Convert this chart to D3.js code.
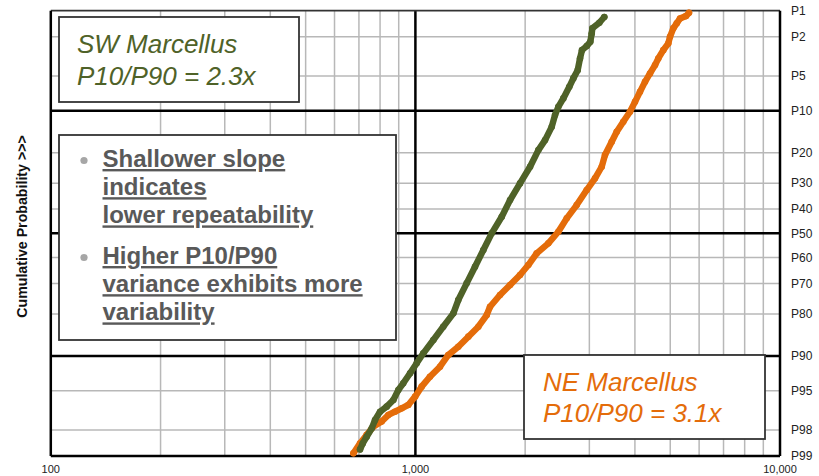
<!DOCTYPE html>
<html>
<head>
<meta charset="utf-8">
<script src="https://cdn.jsdelivr.net/npm/d3@7"></script>
<style>
  html, body { margin: 0; padding: 0; background: #fff; }
  svg { display: block; font-family: "Liberation Sans", Arial, sans-serif; }
</style>
</head>
<body>
<svg id="chart" width="819" height="476"></svg>
<script>
// Well results (x) against cumulative probability in percent (y), one pair of arrays per play
const swValues = [3297,3195,3057,3045,3018,2950,2863,2828,2787,2711,2643,2545,2466,2415,2365,2268,2174,2063,1936,1818,1725,1619,1536,1457,1382,1311,1271,1192,1120,1051,1008,967,926,898,870,834,800,775,759,735,717,705];
const swProb   = [1.19,1.39,1.61,1.84,2.27,2.52,2.78,3.38,4.41,5.27,6.29,7.93,9.31,10.83,13.29,16.50,19.22,24.33,30.08,36.40,43.12,50.00,56.92,63.64,69.92,75.70,79.83,83.53,86.74,89.50,91.27,92.81,94.14,94.91,95.92,96.49,96.88,97.44,97.92,98.32,98.59,98.80];

const neValues = [5628,5523,5318,5209,5097,4992,4939,4786,4637,4542,4400,4263,4130,4002,3877,3717,3566,3455,3311,3243,3109,2950,2769,2600,2466,2315,2151,2040,1936,1818,1706,1602,1569,1488,1397,1311,1231,1168,1096,1040,998,956,917,879,843,808,766,735,705,676];
const neProb   = [1.06,1.16,1.24,1.41,1.61,2.00,2.36,2.78,3.38,3.94,4.74,5.67,6.96,8.47,10.20,12.19,14.43,16.94,20.67,24.33,28.28,32.56,38.38,43.77,49.33,54.16,58.27,62.97,66.84,70.54,74.03,77.83,80.33,83.53,85.98,88.19,89.81,91.82,93.29,94.54,95.60,96.35,96.62,96.88,97.11,97.54,97.83,98.24,98.59,98.92];

// Probability axis ticks (percent) and the heavier reference lines
const probTicks = [1,2,5,10,20,30,40,50,60,70,80,90,95,98,99];
const majorProb = [10,50,90];
const xTickValues = [100,1000,10000];
const xTickLabels = ["100","1,000","10,000"];
const majorX = [1000];

const bulletLines = [
  ["Shallower slope", "indicates", "lower repeatability"],
  ["Higher P10/P90", "variance exhibits more", "variability"]
];

// Inverse standard normal CDF (Acklam's rational approximation)
function probit(p) {
  const a=[-3.969683028665376e+01,2.209460984245205e+02,-2.759285104469687e+02,1.383577518672690e+02,-3.066479806614716e+01,2.506628277459239e+00];
  const b=[-5.447609879822406e+01,1.615858368580409e+02,-1.556989798598866e+02,6.680131188771972e+01,-1.328068155288572e+01];
  const c=[-7.784894002430293e-03,-3.223964580411365e-01,-2.400758277161838e+00,-2.549732539343734e+00,4.374664141464968e+00,2.938163982698783e+00];
  const d=[7.784695709041462e-03,3.224671290700398e-01,2.445134137142996e+00,3.754408661907416e+00];
  const pl = 0.02425, ph = 1 - pl;
  let q, r;
  if (p < pl) {
    q = Math.sqrt(-2 * Math.log(p));
    return (((((c[0]*q+c[1])*q+c[2])*q+c[3])*q+c[4])*q+c[5]) / ((((d[0]*q+d[1])*q+d[2])*q+d[3])*q+1);
  }
  if (p <= ph) {
    q = p - 0.5; r = q * q;
    return (((((a[0]*r+a[1])*r+a[2])*r+a[3])*r+a[4])*r+a[5])*q / (((((b[0]*r+b[1])*r+b[2])*r+b[3])*r+b[4])*r+1);
  }
  q = Math.sqrt(-2 * Math.log(1 - p));
  return -(((((c[0]*q+c[1])*q+c[2])*q+c[3])*q+c[4])*q+c[5]) / ((((d[0]*q+d[1])*q+d[2])*q+d[3])*q+1);
}

const svg = d3.select("#chart");
const W = 819, H = 476;
const plot = { left: 50.8, right: 780, top: 10.7, bottom: 456 };

const x = d3.scaleLog().domain([100, 10000]).range([plot.left, plot.right]);
const z = d3.scaleLinear().domain([probit(0.01), probit(0.99)]).range([plot.top, plot.bottom]);
const y = p => z(probit(p / 100));

const green = "#4F6228", orange = "#E46C0A";
const gridGray = "#b8b8b8";

svg.append("rect").attr("width", W).attr("height", H).attr("fill", "#fff");

// Minor grid
const g = svg.append("g");
g.selectAll("line.vx").data(x.ticks().filter(v => v > 100 && v < 10000 && !majorX.includes(v)))
  .join("line").attr("class", "vx")
  .attr("x1", d => x(d)).attr("x2", d => x(d))
  .attr("y1", plot.top).attr("y2", plot.bottom)
  .attr("stroke", gridGray).attr("stroke-width", 1.5);
g.selectAll("line.hy").data(probTicks.filter(p => !majorProb.includes(p) && p !== 1))
  .join("line").attr("class", "hy")
  .attr("x1", plot.left).attr("x2", plot.right)
  .attr("y1", d => y(d)).attr("y2", d => y(d))
  .attr("stroke", gridGray).attr("stroke-width", 1.5);

// Heavy reference lines
g.selectAll("line.mx").data(majorX).join("line").attr("class", "mx")
  .attr("x1", d => x(d)).attr("x2", d => x(d))
  .attr("y1", plot.top).attr("y2", plot.bottom)
  .attr("stroke", "#000").attr("stroke-width", 2.5);
g.selectAll("line.my").data(majorProb).join("line").attr("class", "my")
  .attr("x1", plot.left).attr("x2", plot.right)
  .attr("y1", d => y(d)).attr("y2", d => y(d))
  .attr("stroke", "#000").attr("stroke-width", 2.5);

// Plot frame
g.append("line").attr("x1", plot.left).attr("x2", plot.right).attr("y1", plot.top).attr("y2", plot.top)
  .attr("stroke", "#333").attr("stroke-width", 1.8);
g.append("line").attr("x1", plot.left).attr("x2", plot.right).attr("y1", plot.bottom).attr("y2", plot.bottom)
  .attr("stroke", "#000").attr("stroke-width", 2.5);
g.append("line").attr("x1", plot.left).attr("x2", plot.left).attr("y1", plot.top).attr("y2", plot.bottom)
  .attr("stroke", "#000").attr("stroke-width", 2.5);
g.append("line").attr("x1", plot.right).attr("x2", plot.right).attr("y1", plot.top).attr("y2", plot.bottom)
  .attr("stroke", "#000").attr("stroke-width", 2.5);

// Probability labels on the right
svg.append("g").selectAll("text").data(probTicks).join("text")
  .attr("x", 791).attr("y", d => y(d) + 4.3)
  .attr("font-size", 12).attr("fill", "#222")
  .text(d => "P" + d);

// Value labels along the bottom
svg.append("g").selectAll("text").data(xTickValues).join("text")
  .attr("x", d => x(d)).attr("y", 473)
  .attr("text-anchor", "middle").attr("font-size", 11).attr("fill", "#222")
  .text((d, i) => xTickLabels[i]);

// Axis title
svg.append("text")
  .attr("transform", "translate(26.5,226.5) rotate(-90)")
  .attr("text-anchor", "middle").attr("font-size", 14.2).attr("font-weight", "bold").attr("fill", "#111")
  .text("Cumulative Probability >>>");

// Annotation boxes
function box(x0, y0, w, h) {
  svg.append("rect").attr("x", x0).attr("y", y0).attr("width", w).attr("height", h)
    .attr("fill", "#fff").attr("stroke", "#333").attr("stroke-width", 1.8);
}
box(59, 17, 240, 85);
svg.append("text").attr("x", 77).attr("y", 53).attr("font-size", 26).attr("font-style", "italic")
  .attr("fill", green).text("SW Marcellus");
svg.append("text").attr("x", 77).attr("y", 85).attr("font-size", 26).attr("font-style", "italic")
  .attr("fill", green).text("P10/P90 = 2.3x");

box(59, 135, 337, 205);
const bulletTop = [167, 264];
bulletLines.forEach((lines, bi) => {
  svg.append("circle").attr("cx", 84).attr("cy", bulletTop[bi] - 6.5).attr("r", 3.6).attr("fill", "#a6a6a6");
  lines.forEach((t, li) => {
    svg.append("text").attr("x", 102.5).attr("y", bulletTop[bi] + li * 28.2)
      .attr("font-size", 24).attr("font-weight", "bold").attr("fill", "#595959")
      .attr("text-decoration", "underline")
      .text(t);
  });
});

box(524, 355, 241, 84);
svg.append("text").attr("x", 543).attr("y", 391).attr("font-size", 26).attr("font-style", "italic")
  .attr("fill", orange).text("NE Marcellus");
svg.append("text").attr("x", 543).attr("y", 422).attr("font-size", 26).attr("font-style", "italic")
  .attr("fill", orange).text("P10/P90 = 3.1x");

// Series: a thick trace through the wells plus a dot per well
const line = d3.line().x(d => x(d.v)).y(d => y(d.p));
function series(values, probs, color) {
  const pts = values.map((v, i) => ({ v, p: probs[i] }));
  const s = svg.append("g");
  s.append("path").datum(pts).attr("d", line)
    .attr("fill", "none").attr("stroke", color).attr("stroke-width", 6.4)
    .attr("stroke-linecap", "round").attr("stroke-linejoin", "round");
  s.selectAll("circle").data(pts).join("circle")
    .attr("cx", d => x(d.v)).attr("cy", d => y(d.p)).attr("r", 3.3)
    .attr("fill", color);
}
series(neValues, neProb, orange);
series(swValues, swProb, green);
</script>
</body>
</html>
